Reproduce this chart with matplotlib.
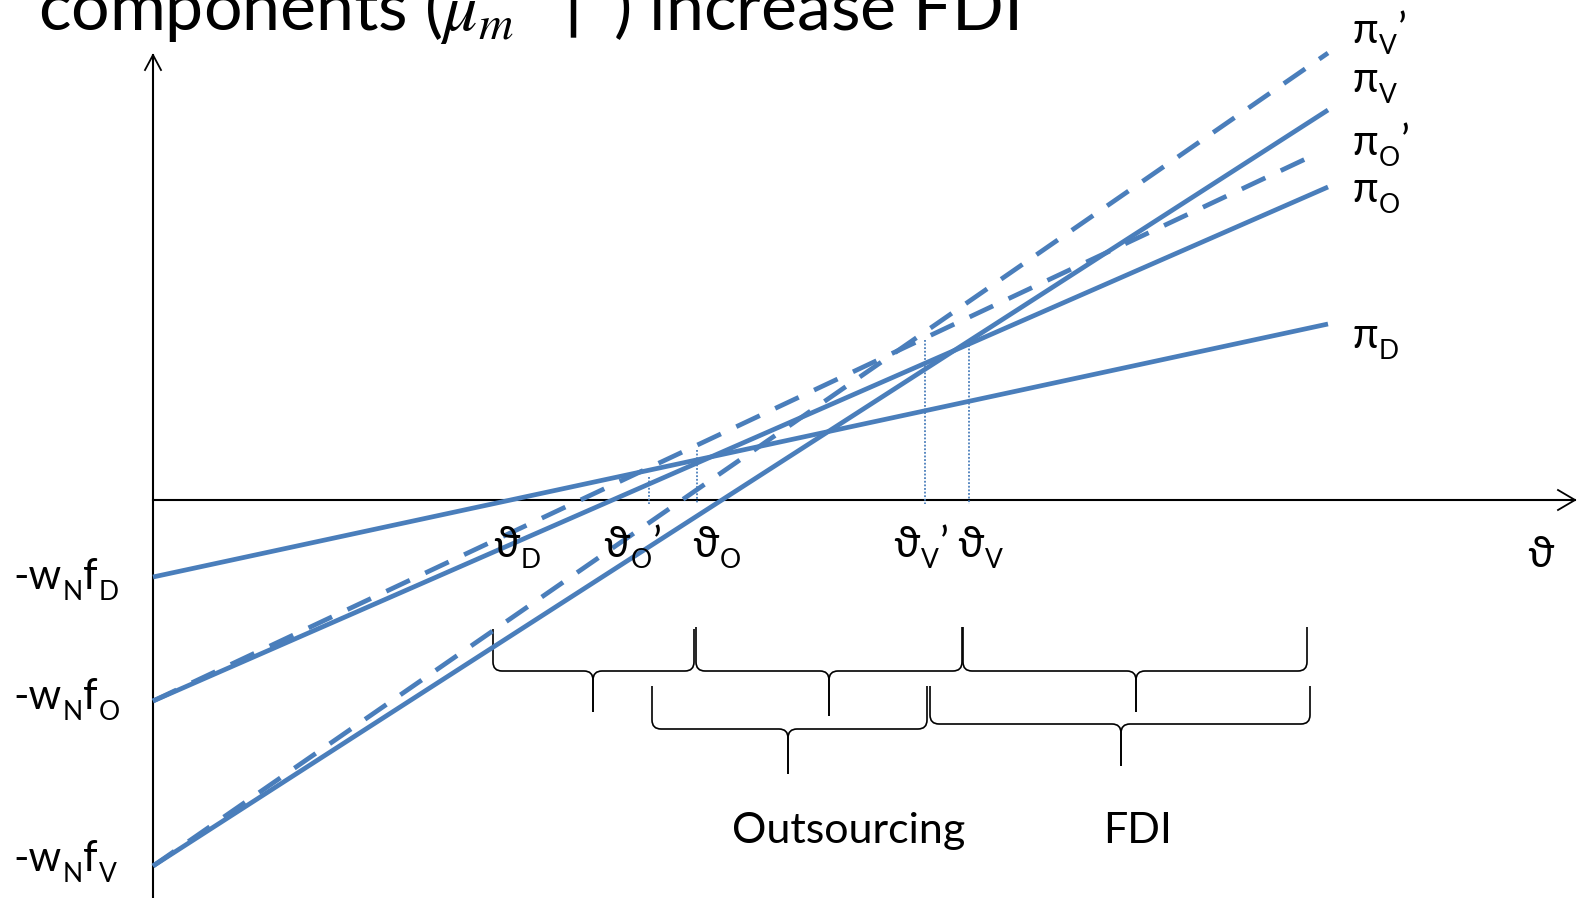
import matplotlib
matplotlib.use("Agg")
import matplotlib.pyplot as plt
from matplotlib.path import Path
from matplotlib.patches import PathPatch

plt.rcParams['font.family'] = ['Lato', 'Noto Sans', 'DejaVu Sans']
plt.rcParams['mathtext.fontset'] = 'custom'
plt.rcParams['mathtext.rm'] = 'Lato'
plt.rcParams['mathtext.it'] = 'STIXGeneral:italic'

# profit lines, in slide pixels (x to the right, y downward)
profit_labels = [[("π", 0), ("D", 1)], [("π", 0), ("O", 1)], [("π", 0), ("O", 1), ("’", 0)],
                 [("π", 0), ("V", 1)], [("π", 0), ("V", 1), ("’", 0)]]
x_start = [153, 153, 153, 153, 153]
y_start = [577, 701, 701, 866, 866]
x_end = [1328, 1328, 1314, 1328, 1328]
y_end = [324, 187, 155, 110, 53]
dashed = [False, False, True, False, True]
label_y = [348, 202, 155, 92, 43]

# cutoffs on the theta axis
cut_labels = [[("ϑ", 0), ("D", 1)], [("ϑ", 0), ("O", 1), ("’", 0)], [("ϑ", 0), ("O", 1)],
              [("ϑ", 0), ("V", 1), ("’", 0)], [("ϑ", 0), ("V", 1)]]
cut_label_x = [493, 603, 692, 893, 957]
cut_x = [649, 697, 925, 969]
cut_top = [477, 450, 340, 345]

# fixed costs on the vertical axis
cost_labels = [[("-w", 0), ("N", 1), ("f", 0), ("D", 1)],
               [("-w", 0), ("N", 1), ("f", 0), ("O", 1)],
               [("-w", 0), ("N", 1), ("f", 0), ("V", 1)]]
cost_y = [589, 709, 871]

# braces: left end, right end, middle, top, bar, tip
brace_x0 = [493, 696, 963, 652, 930]
brace_x1 = [694, 962, 1307, 927, 1310]
brace_mid = [593, 829, 1136, 788, 1121]
brace_top = [629, 627, 627, 686, 686]
brace_bar = [671, 671, 671, 729, 724]
brace_tip = [712, 716, 712, 774, 766]

blue = '#4a7ebb'
W, H = 1577, 898

fig = plt.figure(figsize=(W / 100, H / 100), dpi=100)
ax = fig.add_axes([0, 0, 1, 1])
ax.set_xlim(0, W)
ax.set_ylim(H, 0)
ax.axis('off')
renderer = fig.canvas.get_renderer()


def rich(x, y, parts, size=30, sub_size=19, drop=11):
    # text with office-style subscripts, placed piece by piece
    for s, is_sub in parts:
        t = ax.text(x, y + (drop if is_sub else 0), s, fontsize=sub_size if is_sub else size,
                    ha='left', va='baseline')
        x += t.get_window_extent(renderer).width + 1


# axes with open arrow heads
ax.plot([153, 153], [H, 55], color='black', lw=1.5, zorder=1)
ax.plot([145, 153, 161], [70, 55, 70], color='black', lw=1.3, zorder=1)
ax.plot([153, 1575], [500, 500], color='black', lw=1.5, zorder=1)
ax.plot([1558, 1575, 1558], [490, 500, 510], color='black', lw=1.3, zorder=1)

for i in range(len(x_start)):
    ls = (0, (5.5, 3.6)) if dashed[i] else '-'
    ax.plot([x_start[i], x_end[i]], [y_start[i], y_end[i]], color=blue,
            lw=3.4, ls=ls, solid_capstyle='butt', dash_capstyle='butt', zorder=3)
    rich(1352, label_y[i], profit_labels[i])

for x, top in zip(cut_x, cut_top):
    ax.plot([x, x], [top, 504], color=blue, lw=1.3, ls=(0, (1, 1)), zorder=2)

for x, lab in zip(cut_label_x, cut_labels):
    rich(x, 557, lab)
ax.text(1527, 567, "ϑ", fontsize=30, ha='left', va='baseline')

for y, lab in zip(cost_y, cost_labels):
    rich(13, y, lab)


def brace(x0, x1, xm, yt, yb, ytip, r=9):
    for xe, s in ((x0, 1), (x1, -1)):
        verts = [(xe, yt), (xe, yb - r), (xe, yb), (xe + s * r, yb),
                 (xm - s * r, yb), (xm, yb), (xm, yb + r), (xm, ytip)]
        codes = [Path.MOVETO, Path.LINETO, Path.CURVE3, Path.CURVE3,
                 Path.LINETO, Path.CURVE3, Path.CURVE3, Path.LINETO]
        ax.add_patch(PathPatch(Path(verts, codes), fill=False, lw=1.2,
                               edgecolor='black', zorder=2))


for i in range(len(brace_x0)):
    brace(brace_x0[i], brace_x1[i], brace_mid[i], brace_top[i], brace_bar[i], brace_tip[i])

ax.text(732, 843, "Outsourcing", fontsize=31, ha='left', va='baseline')
ax.text(1103, 843, "FDI", fontsize=31, ha='left', va='baseline')

ax.text(38, 30, "components ($\\mathit{μ_m}$ ‘↑’) increase FDI", fontsize=49,
        ha='left', va='baseline')

fig.savefig('out.png', dpi=100)
